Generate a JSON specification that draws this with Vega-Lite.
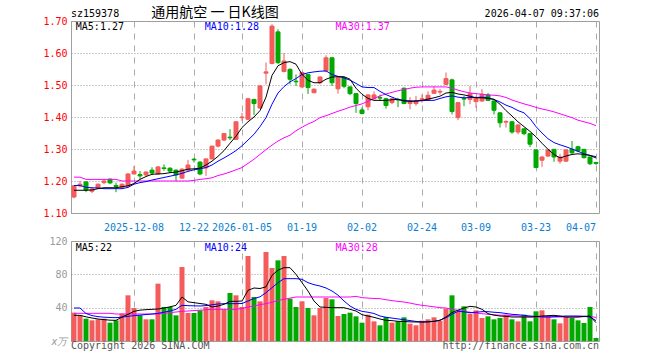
{
"$schema": "https://vega.github.io/schema/vega-lite/v6.json",
"autosize": {"type": "pad"},
"padding": {"left": 42, "top": 5, "right": 40, "bottom": 5},
"background": "white",
"bounds": "flush",
"spacing": 28,
"config": {"view": {"stroke": "#a0a0a0"}, "text": {"font": "DejaVu Sans Mono", "fontSize": 10}, "axis": {"labelOverlap": false}},
"data": {"values": [
{"d":"2025-11-24","o":1.150,"h":1.187,"l":1.146,"c":1.185,"v":34,"m5":1.171,"m10":1.186,"m30":1.212,"v5":30.8,"v10":39.6,"v30":33.2},
{"d":"2025-11-25","o":1.185,"h":1.200,"l":1.180,"c":1.190,"v":30.8,"m5":1.171,"m10":1.186,"m30":1.212,"v5":30.8,"v10":39.6,"v30":33.2},
{"d":"2025-11-26","o":1.197,"h":1.200,"l":1.165,"c":1.172,"v":26.8,"m5":1.171,"m10":1.180,"m30":1.205,"v5":29,"v10":33,"v30":33.2},
{"d":"2025-11-27","o":1.168,"h":1.178,"l":1.162,"c":1.175,"v":24.8,"m5":1.172,"m10":1.179,"m30":1.205,"v5":27.6,"v10":30.5,"v30":33.2},
{"d":"2025-11-28","o":1.178,"h":1.192,"l":1.176,"c":1.190,"v":26,"m5":1.176,"m10":1.178,"m30":1.205,"v5":26.4,"v10":29.2,"v30":33.2},
{"d":"2025-12-01","o":1.195,"h":1.205,"l":1.190,"c":1.200,"v":26.8,"m5":1.179,"m10":1.176,"m30":1.205,"v5":25.6,"v10":28.6,"v30":33.2},
{"d":"2025-12-02","o":1.206,"h":1.208,"l":1.190,"c":1.194,"v":22,"m5":1.179,"m10":1.176,"m30":1.205,"v5":25,"v10":28.2,"v30":33.2},
{"d":"2025-12-03","o":1.186,"h":1.195,"l":1.165,"c":1.183,"v":24.8,"m5":1.179,"m10":1.176,"m30":1.205,"v5":24.8,"v10":28,"v30":32.4},
{"d":"2025-12-04","o":1.180,"h":1.192,"l":1.175,"c":1.190,"v":32.8,"m5":1.182,"m10":1.176,"m30":1.200,"v5":28.8,"v10":28.6,"v30":32.4},
{"d":"2025-12-05","o":1.184,"h":1.224,"l":1.180,"c":1.222,"v":54.8,"m5":1.185,"m10":1.180,"m30":1.200,"v5":32,"v10":29.6,"v30":32.4},
{"d":"2025-12-08","o":1.222,"h":1.247,"l":1.220,"c":1.231,"v":39.6,"m5":1.192,"m10":1.190,"m30":1.200,"v5":35.6,"v10":30.4,"v30":32.4},
{"d":"2025-12-09","o":1.220,"h":1.231,"l":1.205,"c":1.216,"v":30.8,"m5":1.205,"m10":1.195,"m30":1.200,"v5":37,"v10":31,"v30":32.4},
{"d":"2025-12-10","o":1.219,"h":1.230,"l":1.215,"c":1.228,"v":26,"m5":1.214,"m10":1.198,"m30":1.200,"v5":37.6,"v10":31.8,"v30":32.4},
{"d":"2025-12-11","o":1.234,"h":1.243,"l":1.218,"c":1.225,"v":26,"m5":1.221,"m10":1.203,"m30":1.200,"v5":38,"v10":32.4,"v30":32.4},
{"d":"2025-12-12","o":1.222,"h":1.246,"l":1.220,"c":1.244,"v":68.8,"m5":1.222,"m10":1.207,"m30":1.200,"v5":38.4,"v10":33.2,"v30":32.4},
{"d":"2025-12-15","o":1.241,"h":1.252,"l":1.232,"c":1.239,"v":40.8,"m5":1.223,"m10":1.211,"m30":1.200,"v5":39.6,"v10":34.6,"v30":33.2},
{"d":"2025-12-16","o":1.240,"h":1.243,"l":1.225,"c":1.231,"v":40.8,"m5":1.226,"m10":1.215,"m30":1.200,"v5":41,"v10":36,"v30":34},
{"d":"2025-12-17","o":1.234,"h":1.236,"l":1.200,"c":1.219,"v":30.8,"m5":1.228,"m10":1.219,"m30":1.200,"v5":42.8,"v10":38,"v30":34.8},
{"d":"2025-12-18","o":1.209,"h":1.240,"l":1.207,"c":1.237,"v":88.8,"m5":1.232,"m10":1.224,"m30":1.200,"v5":52.8,"v10":42.8,"v30":35.6},
{"d":"2025-12-19","o":1.234,"h":1.266,"l":1.232,"c":1.250,"v":33.6,"m5":1.237,"m10":1.230,"m30":1.200,"v5":47,"v10":42.4,"v30":36},
{"d":"2025-12-22","o":1.268,"h":1.272,"l":1.258,"c":1.266,"v":33.6,"m5":1.238,"m10":1.235,"m30":1.202,"v5":46,"v10":42.2,"v30":36.5},
{"d":"2025-12-23","o":1.259,"h":1.262,"l":1.218,"c":1.222,"v":36.8,"m5":1.240,"m10":1.238,"m30":1.205,"v5":45,"v10":42,"v30":37},
{"d":"2025-12-24","o":1.241,"h":1.270,"l":1.216,"c":1.269,"v":40.8,"m5":1.250,"m10":1.242,"m30":1.207,"v5":44,"v10":42.5,"v30":37.5},
{"d":"2025-12-25","o":1.269,"h":1.310,"l":1.268,"c":1.309,"v":48.8,"m5":1.262,"m10":1.250,"m30":1.210,"v5":40.8,"v10":43.5,"v30":38},
{"d":"2025-12-26","o":1.309,"h":1.330,"l":1.305,"c":1.328,"v":47.6,"m5":1.277,"m10":1.262,"m30":1.217,"v5":42,"v10":44.4,"v30":38},
{"d":"2025-12-29","o":1.328,"h":1.350,"l":1.325,"c":1.348,"v":38,"m5":1.295,"m10":1.272,"m30":1.222,"v5":44,"v10":44.8,"v30":38},
{"d":"2025-12-30","o":1.337,"h":1.362,"l":1.328,"c":1.335,"v":57.6,"m5":1.318,"m10":1.283,"m30":1.228,"v5":47.6,"v10":44.8,"v30":38},
{"d":"2025-12-31","o":1.330,"h":1.387,"l":1.328,"c":1.385,"v":54.8,"m5":1.340,"m10":1.295,"m30":1.235,"v5":47.6,"v10":44.8,"v30":38},
{"d":"2026-01-05","o":1.398,"h":1.413,"l":1.388,"c":1.400,"v":40.8,"m5":1.367,"m10":1.310,"m30":1.242,"v5":48,"v10":45,"v30":39},
{"d":"2026-01-06","o":1.393,"h":1.460,"l":1.390,"c":1.457,"v":102,"m5":1.385,"m10":1.328,"m30":1.255,"v5":60.8,"v10":48,"v30":40.8},
{"d":"2026-01-07","o":1.455,"h":1.456,"l":1.406,"c":1.442,"v":52.8,"m5":1.400,"m10":1.346,"m30":1.268,"v5":63.6,"v10":51,"v30":42},
{"d":"2026-01-08","o":1.428,"h":1.500,"l":1.425,"c":1.497,"v":47.6,"m5":1.420,"m10":1.370,"m30":1.283,"v5":63,"v10":53,"v30":43.6},
{"d":"2026-01-09","o":1.537,"h":1.570,"l":1.502,"c":1.541,"v":106.8,"m5":1.462,"m10":1.398,"m30":1.298,"v5":65,"v10":58,"v30":44.8},
{"d":"2026-01-12","o":1.567,"h":1.690,"l":1.565,"c":1.684,"v":87.6,"m5":1.530,"m10":1.440,"m30":1.312,"v5":78.8,"v10":64,"v30":46.5},
{"d":"2026-01-13","o":1.666,"h":1.674,"l":1.565,"c":1.570,"v":96.8,"m5":1.560,"m10":1.475,"m30":1.325,"v5":85,"v10":70,"v30":48.8},
{"d":"2026-01-14","o":1.542,"h":1.600,"l":1.540,"c":1.575,"v":102,"m5":1.570,"m10":1.495,"m30":1.335,"v5":88,"v10":74.8,"v30":50},
{"d":"2026-01-15","o":1.549,"h":1.552,"l":1.502,"c":1.518,"v":50.8,"m5":1.573,"m10":1.510,"m30":1.343,"v5":88,"v10":74.8,"v30":51.5},
{"d":"2026-01-16","o":1.512,"h":1.533,"l":1.497,"c":1.510,"v":40.8,"m5":1.565,"m10":1.520,"m30":1.357,"v5":80,"v10":74.8,"v30":52.8},
{"d":"2026-01-19","o":1.494,"h":1.541,"l":1.490,"c":1.539,"v":47.6,"m5":1.533,"m10":1.533,"m30":1.368,"v5":70,"v10":74,"v30":52.8},
{"d":"2026-01-20","o":1.533,"h":1.535,"l":1.472,"c":1.492,"v":39.6,"m5":1.515,"m10":1.538,"m30":1.378,"v5":60,"v10":70,"v30":52.8},
{"d":"2026-01-21","o":1.476,"h":1.489,"l":1.474,"c":1.487,"v":30.8,"m5":1.507,"m10":1.541,"m30":1.386,"v5":48,"v10":67.6,"v30":52.8},
{"d":"2026-01-22","o":1.507,"h":1.527,"l":1.502,"c":1.525,"v":39.6,"m5":1.507,"m10":1.543,"m30":1.398,"v5":40.8,"v10":66,"v30":52.8},
{"d":"2026-01-23","o":1.544,"h":1.593,"l":1.540,"c":1.585,"v":51.6,"m5":1.518,"m10":1.544,"m30":1.404,"v5":40.4,"v10":63.6,"v30":52.8},
{"d":"2026-01-26","o":1.585,"h":1.588,"l":1.497,"c":1.507,"v":50,"m5":1.525,"m10":1.533,"m30":1.411,"v5":40,"v10":60,"v30":52.8},
{"d":"2026-01-27","o":1.488,"h":1.525,"l":1.473,"c":1.523,"v":30,"m5":1.526,"m10":1.527,"m30":1.418,"v5":40,"v10":55,"v30":52.8},
{"d":"2026-01-28","o":1.523,"h":1.525,"l":1.490,"c":1.496,"v":32.4,"m5":1.526,"m10":1.522,"m30":1.424,"v5":40,"v10":48,"v30":52.8},
{"d":"2026-01-29","o":1.494,"h":1.495,"l":1.468,"c":1.473,"v":34,"m5":1.518,"m10":1.515,"m30":1.431,"v5":38,"v10":42,"v30":52.8},
{"d":"2026-01-30","o":1.473,"h":1.474,"l":1.413,"c":1.442,"v":29.6,"m5":1.490,"m10":1.505,"m30":1.436,"v5":36,"v10":38,"v30":53.6},
{"d":"2026-02-02","o":1.422,"h":1.430,"l":1.408,"c":1.411,"v":22,"m5":1.471,"m10":1.494,"m30":1.441,"v5":31.6,"v10":35.6,"v30":52},
{"d":"2026-02-03","o":1.432,"h":1.470,"l":1.421,"c":1.469,"v":31.6,"m5":1.458,"m10":1.492,"m30":1.449,"v5":30,"v10":34.5,"v30":51.5},
{"d":"2026-02-04","o":1.457,"h":1.480,"l":1.455,"c":1.469,"v":23.6,"m5":1.452,"m10":1.492,"m30":1.458,"v5":28.4,"v10":33,"v30":51},
{"d":"2026-02-05","o":1.461,"h":1.470,"l":1.450,"c":1.459,"v":18.8,"m5":1.452,"m10":1.480,"m30":1.466,"v5":26.4,"v10":30,"v30":50.8},
{"d":"2026-02-06","o":1.457,"h":1.460,"l":1.426,"c":1.436,"v":28.8,"m5":1.452,"m10":1.470,"m30":1.472,"v5":24.8,"v10":28.5,"v30":49.5},
{"d":"2026-02-09","o":1.445,"h":1.460,"l":1.440,"c":1.457,"v":22,"m5":1.454,"m10":1.462,"m30":1.477,"v5":24.4,"v10":27.5,"v30":48.5},
{"d":"2026-02-10","o":1.455,"h":1.460,"l":1.431,"c":1.453,"v":23.6,"m5":1.455,"m10":1.455,"m30":1.482,"v5":23.6,"v10":26.5,"v30":47.5},
{"d":"2026-02-11","o":1.490,"h":1.492,"l":1.440,"c":1.442,"v":28.4,"m5":1.450,"m10":1.452,"m30":1.486,"v5":23.4,"v10":25.5,"v30":46.8},
{"d":"2026-02-12","o":1.442,"h":1.462,"l":1.424,"c":1.450,"v":20.8,"m5":1.449,"m10":1.450,"m30":1.490,"v5":23,"v10":24.5,"v30":45.5},
{"d":"2026-02-13","o":1.442,"h":1.466,"l":1.435,"c":1.450,"v":18.8,"m5":1.450,"m10":1.450,"m30":1.493,"v5":22.8,"v10":23.5,"v30":44},
{"d":"2026-02-24","o":1.455,"h":1.470,"l":1.445,"c":1.457,"v":24.4,"m5":1.452,"m10":1.451,"m30":1.494,"v5":22.8,"v10":22.8,"v30":42.8},
{"d":"2026-02-25","o":1.452,"h":1.480,"l":1.450,"c":1.468,"v":26,"m5":1.456,"m10":1.452,"m30":1.494,"v5":23,"v10":23,"v30":42},
{"d":"2026-02-26","o":1.474,"h":1.495,"l":1.472,"c":1.484,"v":28.4,"m5":1.460,"m10":1.452,"m30":1.494,"v5":23.6,"v10":23.6,"v30":41},
{"d":"2026-02-27","o":1.478,"h":1.487,"l":1.470,"c":1.480,"v":24.4,"m5":1.465,"m10":1.458,"m30":1.494,"v5":24.8,"v10":25,"v30":40},
{"d":"2026-03-02","o":1.502,"h":1.539,"l":1.500,"c":1.520,"v":38.8,"m5":1.475,"m10":1.463,"m30":1.494,"v5":28.8,"v10":28,"v30":39.6},
{"d":"2026-03-03","o":1.516,"h":1.520,"l":1.408,"c":1.417,"v":54.8,"m5":1.477,"m10":1.466,"m30":1.490,"v5":34,"v10":32,"v30":38},
{"d":"2026-03-04","o":1.398,"h":1.447,"l":1.390,"c":1.445,"v":34.8,"m5":1.472,"m10":1.462,"m30":1.484,"v5":37,"v10":35.6,"v30":36.8},
{"d":"2026-03-05","o":1.458,"h":1.466,"l":1.434,"c":1.456,"v":41.6,"m5":1.469,"m10":1.460,"m30":1.479,"v5":39.6,"v10":35,"v30":35.5},
{"d":"2026-03-06","o":1.455,"h":1.497,"l":1.440,"c":1.473,"v":32.8,"m5":1.465,"m10":1.461,"m30":1.475,"v5":41.6,"v10":34,"v30":34.5},
{"d":"2026-03-09","o":1.448,"h":1.465,"l":1.429,"c":1.460,"v":36.8,"m5":1.460,"m10":1.461,"m30":1.473,"v5":40.8,"v10":34.5,"v30":33.5},
{"d":"2026-03-10","o":1.450,"h":1.487,"l":1.448,"c":1.471,"v":27.6,"m5":1.460,"m10":1.462,"m30":1.471,"v5":38,"v10":35.2,"v30":32.8},
{"d":"2026-03-11","o":1.469,"h":1.475,"l":1.450,"c":1.452,"v":29.6,"m5":1.458,"m10":1.460,"m30":1.469,"v5":32.8,"v10":35.2,"v30":32},
{"d":"2026-03-12","o":1.450,"h":1.452,"l":1.408,"c":1.421,"v":26,"m5":1.455,"m10":1.455,"m30":1.468,"v5":31,"v10":34.5,"v30":31.5},
{"d":"2026-03-13","o":1.413,"h":1.415,"l":1.367,"c":1.382,"v":27.6,"m5":1.440,"m10":1.447,"m30":1.466,"v5":30,"v10":34,"v30":31},
{"d":"2026-03-16","o":1.384,"h":1.390,"l":1.367,"c":1.386,"v":31.6,"m5":1.420,"m10":1.437,"m30":1.461,"v5":29.6,"v10":33,"v30":30.8},
{"d":"2026-03-17","o":1.385,"h":1.387,"l":1.348,"c":1.353,"v":26,"m5":1.403,"m10":1.430,"m30":1.453,"v5":28.8,"v10":32,"v30":30.4},
{"d":"2026-03-18","o":1.353,"h":1.378,"l":1.346,"c":1.375,"v":23.6,"m5":1.385,"m10":1.420,"m30":1.447,"v5":28.8,"v10":31.5,"v30":30},
{"d":"2026-03-19","o":1.363,"h":1.365,"l":1.343,"c":1.348,"v":31.6,"m5":1.370,"m10":1.413,"m30":1.441,"v5":28.8,"v10":30.8,"v30":29.5},
{"d":"2026-03-20","o":1.348,"h":1.350,"l":1.306,"c":1.315,"v":23.6,"m5":1.355,"m10":1.395,"m30":1.436,"v5":28.8,"v10":30,"v30":29},
{"d":"2026-03-23","o":1.297,"h":1.300,"l":1.240,"c":1.242,"v":35.6,"m5":1.338,"m10":1.370,"m30":1.430,"v5":29.2,"v10":29.5,"v30":28.8},
{"d":"2026-03-24","o":1.265,"h":1.278,"l":1.244,"c":1.275,"v":36.8,"m5":1.318,"m10":1.350,"m30":1.425,"v5":30,"v10":29,"v30":28.8},
{"d":"2026-03-25","o":1.278,"h":1.300,"l":1.275,"c":1.297,"v":30,"m5":1.299,"m10":1.332,"m30":1.421,"v5":30.4,"v10":28.8,"v30":28.8},
{"d":"2026-03-26","o":1.299,"h":1.300,"l":1.260,"c":1.275,"v":26,"m5":1.283,"m10":1.320,"m30":1.416,"v5":30.8,"v10":29.2,"v30":28.8},
{"d":"2026-03-27","o":1.262,"h":1.285,"l":1.254,"c":1.275,"v":21.2,"m5":1.272,"m10":1.313,"m30":1.410,"v5":30,"v10":29.6,"v30":28.8},
{"d":"2026-03-30","o":1.262,"h":1.300,"l":1.260,"c":1.297,"v":28.8,"m5":1.278,"m10":1.307,"m30":1.404,"v5":28.8,"v10":30,"v30":28.8},
{"d":"2026-03-31","o":1.299,"h":1.325,"l":1.285,"c":1.288,"v":27.6,"m5":1.283,"m10":1.300,"m30":1.398,"v5":28.8,"v10":30,"v30":28.8},
{"d":"2026-04-01","o":1.307,"h":1.310,"l":1.290,"c":1.294,"v":24.8,"m5":1.285,"m10":1.293,"m30":1.390,"v5":28.8,"v10":30,"v30":29},
{"d":"2026-04-02","o":1.299,"h":1.300,"l":1.270,"c":1.273,"v":21.6,"m5":1.283,"m10":1.285,"m30":1.385,"v5":29.6,"v10":29.6,"v30":29.2},
{"d":"2026-04-03","o":1.275,"h":1.277,"l":1.250,"c":1.254,"v":40.8,"m5":1.280,"m10":1.280,"m30":1.380,"v5":30,"v10":28.8,"v30":29.5},
{"d":"2026-04-07","o":1.258,"h":1.260,"l":1.250,"c":1.255,"v":3.6,"m5":1.272,"m10":1.276,"m30":1.373,"v5":22,"v10":24.5,"v30":28.3}
]},
"vconcat": [
{
"width": 528, "height": 192,
"encoding": {"x": {"field": "d", "type": "ordinal", "sort": null, "scale": {"paddingInner": 0, "paddingOuter": 0},
  "axis": {"title": null, "values": ["2025-12-08","2025-12-22","2026-01-05","2026-01-19","2026-02-02","2026-02-24","2026-03-09","2026-03-23","2026-04-07"],
    "labelExpr": "datum.value == '2025-12-08' || datum.value == '2026-01-05' ? datum.value : slice(datum.value, 5)",
    "labelAlign": {"condition": {"test": "datum.value == '2026-04-07'", "value": "right"}, "value": "center"},
    "labelAngle": 0, "labelColor": "#0a7fd2", "labelFont": "DejaVu Sans Mono", "labelFontSize": 10, "labelPadding": 9, "labelOverlap": false, "labelBound": false,
    "ticks": false, "domain": false, "grid": true, "gridDash": [6,6], "gridColor": "#aaaaaa", "bandPosition": 0.5}}},
"layer": [
  {"mark": {"type": "rule", "strokeWidth": 1},
   "encoding": {"y": {"field": "l", "type": "quantitative", "scale": {"domain": [1.1, 1.7], "zero": false, "nice": false},
       "axis": {"title": null, "values": [1.1,1.2,1.3,1.4,1.5,1.6,1.7], "tickCount": 7, "format": ".2f", "labelColor": "#ff0000", "labelFont": "DejaVu Sans Mono", "labelFontSize": 10, "labelPadding": 4, "labelOverlap": false, "labelBound": false, "ticks": false, "domain": false, "grid": true, "gridDash": [1,2], "gridColor": "#999999"}},
     "y2": {"field": "h"},
     "color": {"condition": {"test": "datum.c >= datum.o", "value": "#f45b5b"}, "value": "#00a800"}}},
  {"mark": {"type": "bar", "width": 4, "strokeWidth": 1},
   "encoding": {"y": {"field": "o", "type": "quantitative"}, "y2": {"field": "c"},
     "fill": {"condition": {"test": "datum.c >= datum.o", "value": "#f45b5b"}, "value": "#00a800"},
     "stroke": {"condition": {"test": "datum.c >= datum.o", "value": "#f45b5b"}, "value": "#00a800"}}},
  {"mark": {"type": "line", "color": "#ff00ff", "strokeWidth": 1}, "encoding": {"y": {"field": "m30", "type": "quantitative"}}},
  {"mark": {"type": "line", "color": "#0000ff", "strokeWidth": 1}, "encoding": {"y": {"field": "m10", "type": "quantitative"}}},
  {"mark": {"type": "line", "color": "#000000", "strokeWidth": 1}, "encoding": {"y": {"field": "m5", "type": "quantitative"}}},
  {"data": {"values": [{}]}, "mark": {"type": "text", "text": "sz159378", "align": "left", "baseline": "middle", "color": "#000"},
   "encoding": {"x": {"datum": "2025-11-24", "type": "ordinal", "bandPosition": 0}, "y": {"datum": 1.722, "type": "quantitative"}}},
  {"data": {"values": [{}]}, "mark": {"type": "text", "text": "通用航空 一 日K线图", "align": "center", "baseline": "middle", "color": "#000", "font": "Noto Sans CJK SC", "fontSize": 14},
   "encoding": {"x": {"datum": "2025-12-26", "type": "ordinal", "bandPosition": 0}, "y": {"datum": 1.7265, "type": "quantitative"}}},
  {"data": {"values": [{}]}, "mark": {"type": "text", "text": "2026-04-07 09:37:06", "align": "right", "baseline": "middle", "color": "#000"},
   "encoding": {"x": {"datum": "2026-04-07", "type": "ordinal", "bandPosition": 1}, "y": {"datum": 1.722, "type": "quantitative"}}},
  {"data": {"values": [{}]}, "mark": {"type": "text", "text": "MA5:1.27", "align": "left", "baseline": "middle", "color": "#000000"},
   "encoding": {"x": {"datum": "2025-11-24", "type": "ordinal", "bandPosition": 0.8}, "y": {"datum": 1.681, "type": "quantitative"}}},
  {"data": {"values": [{}]}, "mark": {"type": "text", "text": "MA10:1.28", "align": "left", "baseline": "middle", "color": "#0000ff"},
   "encoding": {"x": {"datum": "2025-12-24", "type": "ordinal", "bandPosition": 0.3}, "y": {"datum": 1.681, "type": "quantitative"}}},
  {"data": {"values": [{}]}, "mark": {"type": "text", "text": "MA30:1.37", "align": "left", "baseline": "middle", "color": "#ff00ff"},
   "encoding": {"x": {"datum": "2026-01-27", "type": "ordinal", "bandPosition": 0.1}, "y": {"datum": 1.681, "type": "quantitative"}}}
]
},
{
"width": 528, "height": 100,
"encoding": {"x": {"field": "d", "type": "ordinal", "sort": null, "scale": {"paddingInner": 0, "paddingOuter": 0},
  "axis": {"title": null, "values": ["2025-12-08","2025-12-22","2026-01-05","2026-01-19","2026-02-02","2026-02-24","2026-03-09","2026-03-23","2026-04-07"],
    "labels": false, "ticks": false, "domain": false, "grid": true, "gridDash": [6,6], "gridColor": "#aaaaaa", "bandPosition": 0.5}}},
"layer": [
  {"mark": {"type": "bar", "width": 5},
   "encoding": {"y": {"field": "v", "type": "quantitative", "scale": {"domain": [0, 120], "nice": false},
       "axis": {"title": null, "values": [0, 40, 80, 120], "tickCount": 4, "labelExpr": "datum.value == 0 ? 'x万' : datum.label", "labelColor": "#9a9a9a", "labelFont": "DejaVu Sans Mono", "labelFontSize": 10, "labelPadding": 4, "labelOverlap": false, "labelBound": false,
         "labelFontStyle": {"condition": {"test": "datum.value == 0", "value": "italic"}, "value": "normal"},
         "ticks": false, "domain": false, "grid": true, "gridDash": [1,2], "gridColor": "#999999"}},
     "color": {"condition": {"test": "datum.c >= datum.o", "value": "#f45b5b"}, "value": "#00a800"}}},
  {"mark": {"type": "line", "color": "#ff00ff", "strokeWidth": 1}, "encoding": {"y": {"field": "v30", "type": "quantitative"}}},
  {"mark": {"type": "line", "color": "#0000ff", "strokeWidth": 1}, "encoding": {"y": {"field": "v10", "type": "quantitative"}}},
  {"mark": {"type": "line", "color": "#000000", "strokeWidth": 1}, "encoding": {"y": {"field": "v5", "type": "quantitative"}}},
  {"data": {"values": [{}]}, "mark": {"type": "text", "text": "MA5:22", "align": "left", "baseline": "middle", "color": "#000000"},
   "encoding": {"x": {"datum": "2025-11-24", "type": "ordinal", "bandPosition": 0.8}, "y": {"datum": 112.2, "type": "quantitative"}}},
  {"data": {"values": [{}]}, "mark": {"type": "text", "text": "MA10:24", "align": "left", "baseline": "middle", "color": "#0000ff"},
   "encoding": {"x": {"datum": "2025-12-24", "type": "ordinal", "bandPosition": 0.3}, "y": {"datum": 112.2, "type": "quantitative"}}},
  {"data": {"values": [{}]}, "mark": {"type": "text", "text": "MA30:28", "align": "left", "baseline": "middle", "color": "#ff00ff"},
   "encoding": {"x": {"datum": "2026-01-27", "type": "ordinal", "bandPosition": 0.1}, "y": {"datum": 112.2, "type": "quantitative"}}},
  {"data": {"values": [{}]}, "mark": {"type": "text", "text": "Copyright 2026 SINA.COM", "align": "left", "baseline": "middle", "color": "#555555"},
   "encoding": {"x": {"datum": "2025-11-24", "type": "ordinal", "bandPosition": 0}, "y": {"datum": -6, "type": "quantitative"}}},
  {"data": {"values": [{}]}, "mark": {"type": "text", "text": "http://finance.sina.com.cn", "align": "right", "baseline": "middle", "color": "#555555"},
   "encoding": {"x": {"datum": "2026-04-07", "type": "ordinal", "bandPosition": 1}, "y": {"datum": -6, "type": "quantitative"}}}
]
}
]
}
